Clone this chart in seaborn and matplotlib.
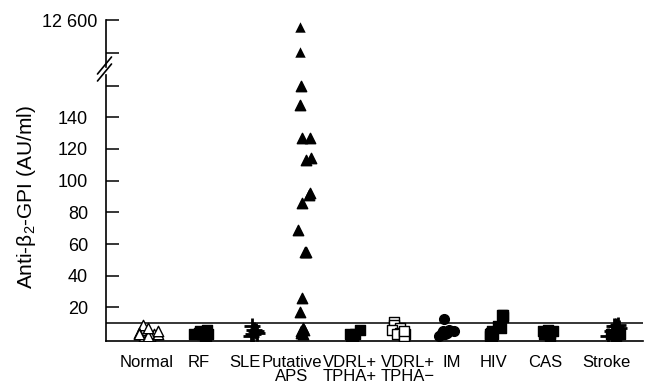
import numpy as np
import pandas as pd
import seaborn as sns
import matplotlib.pyplot as plt

# groups along the x axis
groups = ['Normal', 'RF', 'SLE', 'Putative\nAPS', 'VDRL+\nTPHA+', 'VDRL+\nTPHA\u2212',
          'IM', 'HIV', 'CAS', 'Stroke']

# values (AU/ml)
normal_vals = [2, 3, 2, 4, 3, 5, 6, 9, 4, 2, 3, 7]
rf_vals = [6, 5, 3, 2, 3, 2, 4, 3]
sle_vals = [8, 5, 3, 2, 6, 4]
aps_vals = [160, 148, 127, 127, 114, 113, 92, 91, 86, 69, 55, 55, 26, 17, 7, 6, 5, 4, 3]
aps_high_vals = [10200, 1300]
vdrl_pos_vals = [6, 3, 2, 3, 2]
vdrl_neg_vals = [11, 9, 7, 6, 4, 3, 2, 3, 2, 5]
im_vals = [13, 6, 5, 4, 3, 3, 2, 4, 5, 3]
hiv_vals = [15, 15, 14, 8, 7, 3, 2, 3, 2, 4, 5]
cas_vals = [6, 5, 5, 4, 3, 2, 3]
stroke_sq_vals = [3, 3, 2, 3]
stroke_plus_vals = [9, 8, 8, 7, 4, 2, 5]
cutoff = 10

# layout: x centre of each group's marks and of its label (axis runs 106..643)
mark_x = [149, 204, 254, 304, 354, 400, 446, 499, 547, 611]
label_x = [147, 199, 245, 292, 350, 408, 452, 494, 545, 606]

sns.set_style('ticks')
plt.rcParams['font.family'] = ['Liberation Sans', 'DejaVu Sans']
plt.rcParams['mathtext.fontset'] = 'custom'
plt.rcParams['mathtext.rm'] = 'Liberation Sans'
plt.rcParams['mathtext.it'] = 'Liberation Sans:italic'
for k in ['text.color', 'axes.labelcolor', 'xtick.color', 'ytick.color', 'axes.edgecolor']:
    plt.rcParams[k] = 'black'

fig = plt.figure(figsize=(6.47, 3.83), dpi=100)
ax = fig.add_axes([0.1638, 0.1104, 0.830, 0.693])
ax_top = fig.add_axes([0.1638, 0.825, 0.830, 0.1227])

pos = dict(zip(groups, mark_x))

# (group, values, marker, face, size, jitter in px)
series = [
    ('Normal', normal_vals, '^', 'white', 7.5, 11),
    ('RF', rf_vals, 's', 'black', 6.5, 10),
    ('SLE', sle_vals, '+', 'black', 12, 5),
    ('Putative\nAPS', aps_vals, '^', 'black', 7.5, 7),
    ('VDRL+\nTPHA+', vdrl_pos_vals, 's', 'black', 6.5, 8),
    ('VDRL+\nTPHA\u2212', vdrl_neg_vals, 's', 'white', 6.5, 10),
    ('IM', im_vals, 'o', 'black', 7, 8),
    ('HIV', hiv_vals, 's', 'black', 7, 10),
    ('CAS', cas_vals, 's', 'black', 6.5, 7),
    ('Stroke', stroke_sq_vals, 's', 'black', 6.5, 10),
    ('Stroke', stroke_plus_vals, '+', 'black', 11, 10),
]

np.random.seed(3)
for grp, vals, mk, face, sz, jit in series:
    df = pd.DataFrame({'x': pos[grp], 'value': vals})
    if mk == '+':
        sns.stripplot(data=df, x='x', y='value', native_scale=True, ax=ax,
                      marker=mk, color='black', size=sz, linewidth=2, jitter=jit)
    else:
        sns.stripplot(data=df, x='x', y='value', native_scale=True, ax=ax,
                      marker=mk, color=face, edgecolor='black', linewidth=1,
                      size=sz, jitter=jit)

df_high = pd.DataFrame({'x': pos['Putative\nAPS'], 'value': aps_high_vals})
sns.stripplot(data=df_high, x='x', y='value', native_scale=True, ax=ax_top,
              marker='^', color='black', size=7.5, jitter=7)

ax.axhline(cutoff, color='black', lw=1.1)

# lower part of the broken axis
ax.set_xlim(106, 643)
ax.set_ylim(-1, 166.5)
ax.set_xticks(label_x)
ax.set_xticklabels(groups)
ax.set_yticks([20, 40, 60, 80, 100, 120, 140, 160])
ax.set_yticklabels(['20', '40', '60', '80', '100', '120', '140', ''])
ax.tick_params(axis='y', direction='in', length=9.5, width=1.1, pad=13, labelsize=13)
ax.tick_params(axis='x', length=0, pad=10, labelsize=12)
for lab in ax.get_xticklabels():
    lab.set_linespacing(0.95)
ax.set_xlabel('')
ax.set_ylabel(r'Anti-$\mathregular{\beta_2}$-GPI (AU/ml)', fontsize=15)
ax.yaxis.set_label_coords(-0.126, 0.54)
sns.despine(ax=ax)
for sp in ['left', 'bottom']:
    ax.spines[sp].set_linewidth(1.2)

# upper part of the broken axis
ax_top.set_xlim(106, 643)
ax_top.set_ylim(-3921, 12600)
ax_top.set_yticks([1000, 12600])
ax_top.set_yticklabels(['', '12 600'])
ax_top.tick_params(axis='y', direction='in', length=9.5, width=1.1, pad=6.5, labelsize=13)
ax_top.set_xticks([])
ax_top.set_xlabel('')
ax_top.set_ylabel('')
sns.despine(ax=ax_top, bottom=True)
ax_top.spines['left'].set_linewidth(1.2)
ax_top.patch.set_visible(False)

# break marks
W, H = 647, 383
for dy in (0, -7):
    fig.add_artist(plt.Line2D([97.5 / W, 111.5 / W],
                              [1 - (81 + dy) / H, 1 - (64 + dy) / H],
                              color='black', lw=1.2))

plt.savefig('out.png', dpi=100)
